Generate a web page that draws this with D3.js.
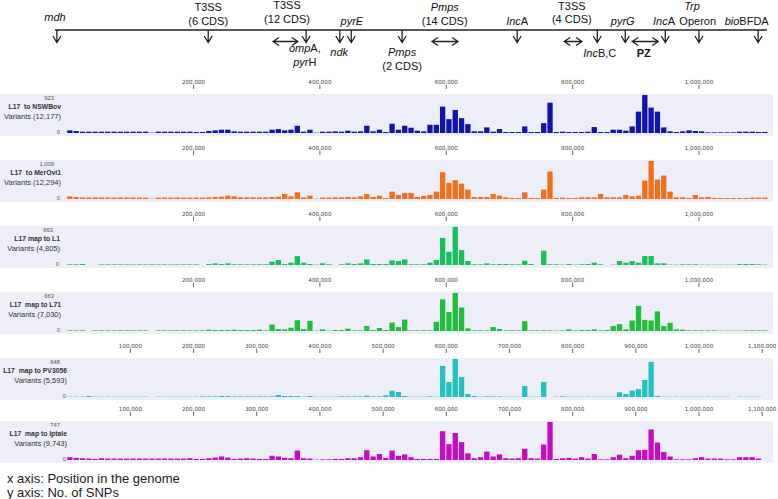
<!DOCTYPE html>
<html>
<head>
<meta charset="utf-8">
<script src="https://cdn.jsdelivr.net/npm/d3@7"></script>
<style>
  body { margin: 0; background: #fff; }
  svg { display: block; font-family: "Liberation Sans", Arial, sans-serif; }
  .ttl { white-space: pre; }
</style>
</head>
<body>
<svg id="chart" width="778" height="499"></svg>
<script>
// SNP counts per 10 kb window, index = window number
const BIN = 10000

const nswbov = [
  64, 48, 32, 32, 32, 32, 32, 32, 32, 32,
  32, 32, 32, 8, 32, 32, 32, 32, 32, 32,
  24, 24, 48, 64, 80, 80, 40, 32, 32, 32,
  32, 32, 80, 96, 64, 80, 176, 32, 80, 8,
  32, 32, 40, 32, 56, 32, 40, 176, 40, 80,
  24, 224, 80, 176, 128, 56, 40, 200, 200, 640,
  336, 560, 360, 216, 40, 40, 136, 32, 96, 24,
  24, 24, 160, 24, 24, 240, 736, 24, 32, 24,
  24, 24, 32, 144, 24, 24, 80, 80, 56, 160,
  520, 923, 616, 520, 136, 40, 24, 40, 64, 48,
  40, 16, 16, 16, 16, 16, 32, 32, 32, 24,
  24]

const merovi1 = [
  71, 53, 40, 40, 44, 40, 40, 36, 40, 40,
  40, 40, 36, 10, 36, 36, 36, 40, 36, 36,
  36, 36, 44, 53, 62, 89, 71, 44, 44, 44,
  44, 44, 53, 62, 133, 71, 178, 44, 89, 10,
  36, 36, 44, 44, 53, 44, 71, 133, 53, 89,
  27, 196, 107, 160, 160, 53, 80, 107, 196, 712,
  427, 498, 409, 249, 53, 53, 53, 133, 89, 44,
  27, 27, 178, 27, 27, 249, 730, 27, 36, 27,
  27, 44, 44, 44, 133, 44, 44, 44, 107, 71,
  89, 490, 1009, 516, 623, 196, 44, 44, 27, 107,
  44, 53, 27, 27, 27, 27, 27, 27, 36, 36,
  36]

const l1 = [
  12, 12, 17, 0, 0, 10, 10, 10, 10, 10,
  10, 10, 10, 10, 10, 10, 10, 10, 10, 10,
  10, 0, 17, 29, 17, 29, 12, 12, 12, 12,
  12, 12, 58, 87, 17, 40, 156, 40, 17, 6,
  29, 12, 0, 12, 29, 17, 29, 98, 17, 17,
  17, 80, 69, 98, 12, 12, 12, 40, 87, 473,
  231, 663, 260, 69, 12, 12, 29, 12, 17, 17,
  12, 12, 75, 17, 0, 248, 12, 12, 6, 17,
  6, 12, 17, 40, 12, 0, 6, 69, 40, 69,
  40, 156, 156, 29, 29, 6, 6, 12, 12, 12,
  6, 6, 6, 6, 6, 6, 17, 17, 17, 12,
  6]

const l71 = [
  11, 11, 11, 0, 11, 11, 11, 11, 11, 11,
  11, 11, 11, 0, 11, 11, 11, 11, 11, 11,
  11, 11, 23, 17, 17, 17, 23, 17, 17, 17,
  23, 11, 114, 34, 29, 57, 188, 34, 177, 6,
  29, 6, 17, 17, 40, 11, 11, 86, 17, 51,
  17, 148, 68, 200, 11, 11, 11, 11, 160, 553,
  331, 663, 410, 46, 11, 11, 11, 68, 34, 11,
  11, 11, 171, 11, 11, 11, 11, 6, 11, 29,
  11, 17, 17, 29, 11, 17, 86, 120, 29, 182,
  439, 194, 182, 342, 86, 143, 29, 23, 11, 11,
  11, 11, 11, 6, 6, 6, 6, 11, 11, 11,
  11]

const pv3056 = [
  6, 6, 6, 17, 6, 6, 6, 6, 6, 6,
  6, 6, 6, 0, 6, 6, 6, 6, 6, 6,
  6, 11, 11, 11, 17, 17, 11, 11, 11, 11,
  11, 11, 11, 34, 17, 17, 17, 6, 17, 6,
  6, 6, 6, 11, 11, 11, 11, 23, 11, 11,
  29, 107, 85, 17, 6, 6, 6, 11, 6, 530,
  255, 648, 340, 51, 17, 6, 11, 11, 11, 6,
  6, 6, 187, 6, 6, 255, 0, 6, 11, 6,
  6, 6, 6, 6, 6, 6, 6, 80, 50, 110,
  136, 290, 600, 17, 6, 6, 6, 6, 6, 6,
  6, 6, 6, 6, 6, 0, 6, 6, 6, 6,
  0]

const iptale = [
  55, 41, 35, 28, 21, 35, 28, 28, 28, 28,
  28, 28, 28, 28, 28, 28, 28, 28, 28, 35,
  21, 21, 35, 48, 69, 48, 21, 28, 35, 28,
  21, 21, 83, 69, 41, 35, 186, 35, 28, 7,
  14, 14, 21, 21, 35, 35, 55, 193, 69, 117,
  41, 186, 83, 110, 55, 21, 21, 21, 21, 566,
  311, 531, 352, 131, 35, 55, 166, 69, 110, 35,
  28, 35, 221, 35, 28, 304, 747, 21, 35, 41,
  28, 55, 28, 117, 14, 14, 55, 104, 35, 83,
  193, 200, 600, 345, 159, 69, 14, 14, 14, 35,
  55, 28, 28, 28, 14, 14, 55, 55, 55, 28,
  0]

const ticks200 = [200000, 400000, 600000, 800000, 1000000]
const ticks100 = [100000, 200000, 300000, 400000, 500000, 600000, 700000, 800000, 900000, 1000000, 1100000]

const panelTitles = ['L17  to NSWBov', 'L17  to MerOvi1', 'L17 map to L1', 'L17  map to L71', 'L17  map to PV3056', 'L17  map to Iptale']
const panelVariants = ['Variants (12,177)', 'Variants (12,294)', 'Variants (4,805)', 'Variants (7,030)', 'Variants (5,593)', 'Variants (9,743)']
const panelMax = [923, 1009, 663, 663, 648, 747]
const panelMaxLabels = ['923', '1,009', '663', '663', '648', '747']
const panelData = [nswbov, merovi1, l1, l71, pv3056, iptale]
const panelTicks = [ticks200, ticks200, ticks200, ticks200, ticks100, ticks100]

// genome map at the top (schematic positions in kb)
const mapArrows = [3, 241, 395, 448, 466, 546, 727, 853, 897, 960, 1013, 1106]
const mapSpans = [[343, 382], [593, 634], [801, 829], [908, 949]]
const mapLabels = [
  { kb: 0, y: 21, parts: [['mdh', 'i']] },
  { kb: 241, y: 11, parts: [['T3SS', '']] },
  { kb: 241, y: 25, parts: [['(6 CDS)', '']] },
  { kb: 365, y: 9, parts: [['T3SS', '']] },
  { kb: 365, y: 23, parts: [['(12 CDS)', '']] },
  { kb: 393, y: 52, parts: [['omp', 'i'], ['A,', '']] },
  { kb: 393, y: 66, parts: [['pyr', 'i'], ['H', '']] },
  { kb: 447, y: 56, parts: [['ndk', 'i']] },
  { kb: 467, y: 25, parts: [['pyrE', 'i']] },
  { kb: 546, y: 56, parts: [['Pmps', 'i']] },
  { kb: 546, y: 70, parts: [['(2 CDS)', '']] },
  { kb: 613, y: 11, parts: [['Pmps', 'i']] },
  { kb: 613, y: 25, parts: [['(14 CDS)', '']] },
  { kb: 727, y: 25, parts: [['Inc', 'i'], ['A', '']] },
  { kb: 813, y: 10, parts: [['T3SS', '']] },
  { kb: 813, y: 23, parts: [['(4 CDS)', '']] },
  { kb: 857, y: 57, parts: [['Inc', 'i'], ['B,C', '']] },
  { kb: 893, y: 25, parts: [['pyrG', 'i']] },
  { kb: 926, y: 57, parts: [['PZ', 'b']] },
  { kb: 958, y: 25, parts: [['Inc', 'i'], ['A', '']] },
  { kb: 1002, y: 10, parts: [['Trp', 'i']] },
  { kb: 1011, y: 25, parts: [['Operon', '']] },
  { kb: 1088, y: 25, parts: [['bio', 'i'], ['BFDA', '']] }
]

const colors = ['#1212ac', '#f2701c', '#16c05c', '#1fbf3a', '#22c2c2', '#c40cc4']
const panelTop = [94, 160, 226, 292, 358, 421]
const labelRight = [61, 61, 60, 61, 67, 67]

const svg = d3.select('#chart')

// ---- genome map ----
const mapX = d3.scaleLinear().domain([0, 1120]).range([55, 767])
const map = svg.append('g')
  .attr('stroke', '#222')
  .attr('stroke-width', 1.3)
  .attr('fill', 'none')

map.append('line')
  .attr('x1', mapX(0)).attr('x2', mapX(1120))
  .attr('y1', 30).attr('y2', 30)

map.selectAll('path.down')
  .data(mapArrows)
  .join('path')
  .attr('class', 'down')
  .attr('d', (d) => {
    const x = mapX(d)
    return `M${x},30V42.5M${x - 4},36L${x},42.5L${x + 4},36`
  })

map.selectAll('path.span')
  .data(mapSpans)
  .join('path')
  .attr('class', 'span')
  .attr('d', (d) => {
    const a = mapX(d[0])
    const b = mapX(d[1])
    return `M${a},41.5H${b}M${a + 6},37.5L${a},41.5L${a + 6},45.5M${b - 6},37.5L${b},41.5L${b - 6},45.5`
  })

const labels = svg.append('g')
  .attr('font-size', 11)
  .attr('fill', '#111')
  .attr('text-anchor', 'middle')
  .selectAll('text')
  .data(mapLabels)
  .join('text')
  .attr('x', (d) => mapX(d.kb))
  .attr('y', (d) => d.y)

labels.selectAll('tspan')
  .data((d) => d.parts)
  .join('tspan')
  .attr('font-style', (d) => d[1] === 'i' ? 'italic' : 'normal')
  .attr('font-weight', (d) => d[1] === 'b' ? 'bold' : 'normal')
  .text((d) => d[0])

// ---- SNP panels ----
const x = d3.scaleLinear().domain([0, 1110000]).range([66.7, 768])
const barW = x(BIN) - x(0) - 1

panelData.forEach((values, k) => {
  const T = panelTop[k]
  const R = labelRight[k]
  const g = svg.append('g')

  g.append('rect')
    .attr('x', 0).attr('y', T)
    .attr('width', 773).attr('height', 42)
    .attr('fill', '#eeeef9')

  const y = d3.scaleLinear().domain([0, panelMax[k]]).range([T + 39, T + 1])

  g.append('g')
    .selectAll('rect')
    .data(values)
    .join('rect')
    .attr('x', (d, i) => x(i * BIN) + 0.5)
    .attr('width', barW)
    .attr('y', (d) => y(d))
    .attr('height', (d) => y(0) - y(d))
    .attr('fill', colors[k])

  const axis = d3.axisTop(x)
    .tickValues(panelTicks[k])
    .tickSize(4)
    .tickPadding(1)
    .tickFormat(d3.format(','))

  const ax = g.append('g')
    .attr('transform', `translate(0,${T - 5})`)
    .call(axis)
  ax.select('.domain').remove()
  ax.selectAll('line').attr('stroke', '#666')
  ax.selectAll('text')
    .attr('font-family', 'DejaVu Sans')
    .attr('font-size', 5.6)
    .attr('fill', '#444')

  const txt = g.append('g').attr('text-anchor', 'end').attr('fill', '#333')
  txt.append('text')
    .attr('x', R - 7).attr('y', T + 6)
    .attr('font-size', 5.8).attr('fill', '#555')
    .text(panelMaxLabels[k])
  txt.append('text')
    .attr('class', 'ttl')
    .attr('x', R).attr('y', T + 15)
    .attr('font-size', 6.8).attr('font-weight', 'bold')
    .text(panelTitles[k])
  txt.append('text')
    .attr('x', R).attr('y', T + 25)
    .attr('font-size', 7.5)
    .text(panelVariants[k])
  txt.append('text')
    .attr('x', R - 1).attr('y', T + 40)
    .attr('font-size', 5.8).attr('fill', '#555')
    .text('0')
})

// ---- footnote ----
const foot = svg.append('g').attr('font-size', 13).attr('fill', '#222')
foot.append('text').attr('x', 7).attr('y', 483).text('x axis: Position in the genome')
foot.append('text').attr('x', 7).attr('y', 497).text('y axis: No. of SNPs')
</script>
</body>
</html>
